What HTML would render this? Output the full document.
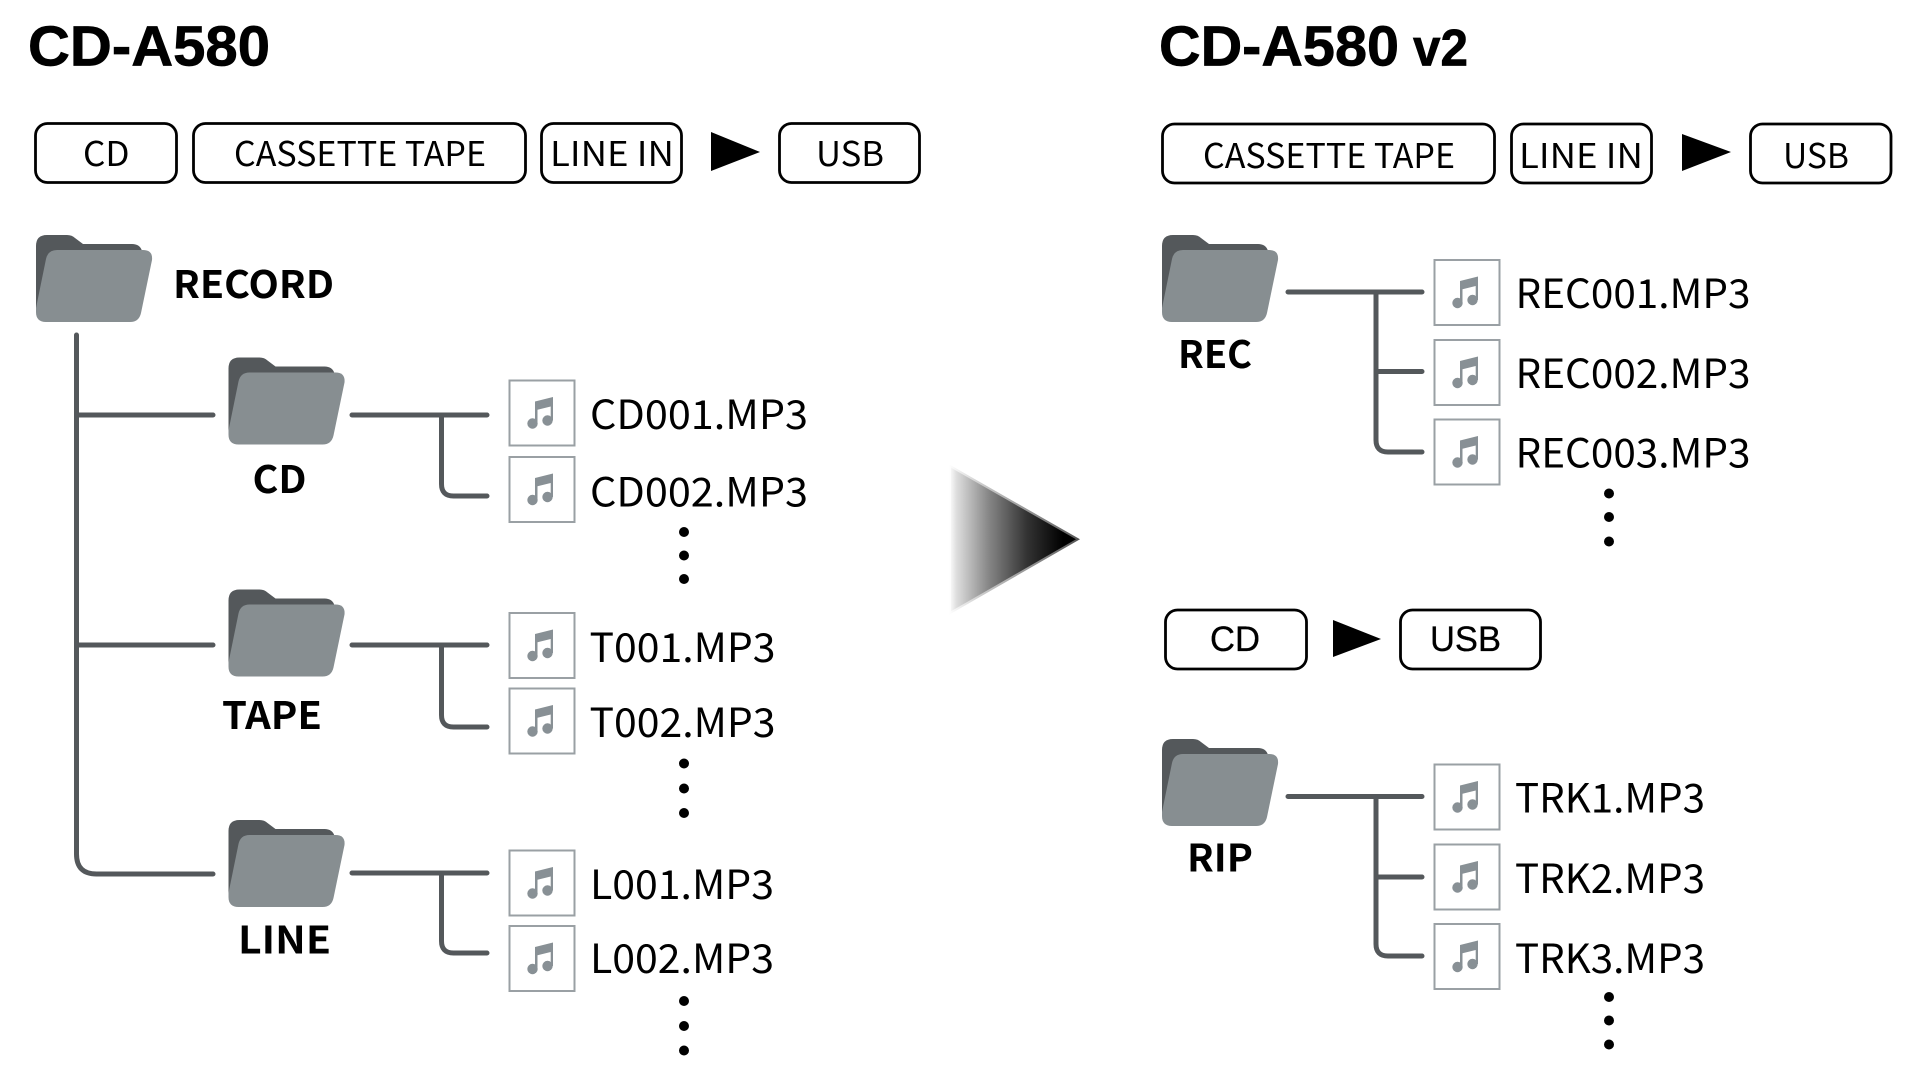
<!DOCTYPE html>
<html lang="en">
<head>
<meta charset="utf-8">
<title>CD-A580 folder structure</title>
<style>
html,body{margin:0;padding:0;background:#fff;width:1920px;height:1080px;overflow:hidden}
svg{display:block}
.t{font-family:"Liberation Sans",Arial,sans-serif;font-weight:700;fill:#000;stroke:#000;stroke-width:.7}
.n{font-family:"Noto Sans CJK JP","Liberation Sans",sans-serif;font-weight:400;fill:#000}
.b{font-family:"Noto Sans CJK JP","Liberation Sans",sans-serif;font-weight:700;fill:#000}
.h{font-family:"Liberation Sans",Arial,sans-serif;font-weight:400;fill:#000;stroke:#000;stroke-width:.3}
.btn{font-size:34px}
.file{font-size:40px}
.lab{font-size:38px}
.box{fill:#fff;stroke:#000;stroke-width:2.8}
.ln{fill:none;stroke:#54585b;stroke-width:5;stroke-linecap:round;stroke-linejoin:round}
</style>
</head>
<body>
<svg xmlns="http://www.w3.org/2000/svg" width="1920" height="1080" viewBox="0 0 1920 1080">
<defs>
<linearGradient id="g" gradientUnits="userSpaceOnUse" x1="949" y1="0" x2="1079" y2="0">
<stop offset="0" stop-color="#fff"/>
<stop offset=".06" stop-color="#ddd"/>
<stop offset=".3" stop-color="#888"/>
<stop offset=".6" stop-color="#333"/>
<stop offset=".88" stop-color="#000"/>
<stop offset="1" stop-color="#000"/>
</linearGradient>
<linearGradient id="gs" gradientUnits="userSpaceOnUse" x1="949" y1="0" x2="1079" y2="0">
<stop offset="0" stop-color="#fff"/>
<stop offset=".25" stop-color="#ccc"/>
<stop offset=".7" stop-color="#888"/>
<stop offset="1" stop-color="#555"/>
</linearGradient>
<g id="folder">
<path fill="#54585b" d="M0 11Q0 0 11 0H31Q36 0 39 3L47 9H96Q104 9 106 16L60 40L0 76Z"/>
<path fill="#878e91" d="M21 15H107Q117 15 116 25L105 78Q103 87 94 87H10Q0 87 0 77V73L10 24Q12 15 21 15Z"/>
</g>
<g id="file">
<rect x="1" y="1" width="65" height="65" fill="#fff" stroke="#9aa0a4" stroke-width="2"/>
<circle cx="24" cy="44" r="5.2" fill="#889095"/>
<circle cx="39" cy="41" r="5.2" fill="#889095"/>
<path fill="#889095" d="M26.5 22L44.5 17.5V41H42.2V27L29 30.2V44H26.5Z"/>
</g>
</defs>

<text class="t" x="28" y="65.5" font-size="57" textLength="242" lengthAdjust="spacingAndGlyphs">CD-A580</text>
<text class="t" x="1159" y="65.5" font-size="57" textLength="240" lengthAdjust="spacingAndGlyphs">CD-A580</text>
<text class="t" x="1413" y="65.5" font-size="52" textLength="55" lengthAdjust="spacingAndGlyphs">v2</text>

<!-- left buttons -->
<rect class="box" x="35.5" y="123.5" width="141" height="59" rx="12"/>
<rect class="box" x="193.5" y="123.5" width="332" height="59" rx="12"/>
<rect class="box" x="541.5" y="123.5" width="140" height="59" rx="12"/>
<rect class="box" x="779.5" y="123.5" width="140" height="59" rx="12"/>
<text class="n btn" x="83" y="166" textLength="46.6" lengthAdjust="spacingAndGlyphs">CD</text>
<text class="n btn" x="234" y="166" textLength="252" lengthAdjust="spacingAndGlyphs">CASSETTE TAPE</text>
<text class="n btn" x="550" y="166" textLength="124" lengthAdjust="spacingAndGlyphs">LINE IN</text>
<text class="n btn" x="816" y="166" textLength="68" lengthAdjust="spacingAndGlyphs">USB</text>
<polygon points="711,132 760,152 711,171" fill="#000"/>

<!-- right buttons -->
<rect class="box" x="1162.5" y="124" width="332" height="59" rx="12"/>
<rect class="box" x="1511.5" y="124" width="140" height="59" rx="12"/>
<rect class="box" x="1750.5" y="124" width="140.5" height="59" rx="12"/>
<text class="n btn" x="1203" y="168" textLength="252" lengthAdjust="spacingAndGlyphs">CASSETTE TAPE</text>
<text class="n btn" x="1519" y="168" textLength="124" lengthAdjust="spacingAndGlyphs">LINE IN</text>
<text class="n btn" x="1783" y="168" textLength="66" lengthAdjust="spacingAndGlyphs">USB</text>
<polygon points="1682,134 1731,152 1682,171" fill="#000"/>

<!-- lower right buttons -->
<rect class="box" x="1165.5" y="610" width="141" height="59" rx="12"/>
<rect class="box" x="1400.5" y="610" width="140" height="59" rx="12"/>
<text class="h" x="1210" y="651" font-size="35" textLength="50" lengthAdjust="spacingAndGlyphs">CD</text>
<text class="h" x="1430" y="651" font-size="35" textLength="71" lengthAdjust="spacingAndGlyphs">USB</text>
<polygon points="1333,620 1381,639 1333,657" fill="#000"/>

<!-- big arrow -->
<polygon points="950,466 1078,539.3 950,613" fill="url(#g)" stroke="url(#gs)" stroke-width="2"/>

<!-- left tree lines -->
<path class="ln" d="M76.5 335V854Q76.5 874 96.5 874H213"/>
<path class="ln" d="M76.5 415H213M76.5 645H213"/>
<path class="ln" d="M352 415H487M441.5 415V484Q441.5 496 453.5 496H487"/>
<path class="ln" d="M352 645H487M441.5 645V715Q441.5 727 453.5 727H487"/>
<path class="ln" d="M352 873H487M441.5 873V941Q441.5 953 453.5 953H487"/>

<!-- right tree lines -->
<path class="ln" d="M1288 292H1422M1376 292V440Q1376 452 1388 452H1422M1376 371.5H1422"/>
<path class="ln" d="M1288 796.5H1422M1376 796.5V944Q1376 956 1388 956H1422M1376 877H1422"/>

<!-- folders -->
<use href="#folder" x="36" y="235"/>
<use href="#folder" x="228.5" y="357.5"/>
<use href="#folder" x="228.5" y="589.5"/>
<use href="#folder" x="228.5" y="820"/>
<use href="#folder" x="1162" y="235"/>
<use href="#folder" x="1162" y="739"/>

<!-- folder labels -->
<text class="b lab" x="173" y="298" textLength="161" lengthAdjust="spacingAndGlyphs">RECORD</text>
<text class="b lab" x="252.5" y="493" textLength="54" lengthAdjust="spacingAndGlyphs">CD</text>
<text class="b lab" x="222" y="729" textLength="100" lengthAdjust="spacingAndGlyphs">TAPE</text>
<text class="b lab" x="238" y="953.5" textLength="93" lengthAdjust="spacingAndGlyphs">LINE</text>
<text class="b lab" x="1178" y="368" textLength="74" lengthAdjust="spacingAndGlyphs">REC</text>
<text class="b lab" x="1187" y="871.5" textLength="66" lengthAdjust="spacingAndGlyphs">RIP</text>

<!-- file icons -->
<use href="#file" x="508.5" y="379.5"/>
<use href="#file" x="508.5" y="456"/>
<use href="#file" x="508.5" y="612"/>
<use href="#file" x="508.5" y="687.5"/>
<use href="#file" x="508.5" y="849.5"/>
<use href="#file" x="508.5" y="925"/>
<use href="#file" x="1433.5" y="259"/>
<use href="#file" x="1433.5" y="339"/>
<use href="#file" x="1433.5" y="418.5"/>
<use href="#file" x="1433.5" y="763.5"/>
<use href="#file" x="1433.5" y="843.5"/>
<use href="#file" x="1433.5" y="923"/>

<!-- file names -->
<text class="n file" x="590" y="429" textLength="218" lengthAdjust="spacingAndGlyphs">CD001.MP3</text>
<text class="n file" x="590" y="506.5" textLength="218" lengthAdjust="spacingAndGlyphs">CD002.MP3</text>
<text class="n file" x="589.5" y="662" textLength="186" lengthAdjust="spacingAndGlyphs">T001.MP3</text>
<text class="n file" x="589.5" y="737" textLength="186" lengthAdjust="spacingAndGlyphs">T002.MP3</text>
<text class="n file" x="590" y="899" textLength="184" lengthAdjust="spacingAndGlyphs">L001.MP3</text>
<text class="n file" x="590" y="973" textLength="184" lengthAdjust="spacingAndGlyphs">L002.MP3</text>
<text class="n file" x="1515.5" y="308" textLength="235" lengthAdjust="spacingAndGlyphs">REC001.MP3</text>
<text class="n file" x="1515.5" y="388" textLength="235" lengthAdjust="spacingAndGlyphs">REC002.MP3</text>
<text class="n file" x="1515.5" y="467.5" textLength="235" lengthAdjust="spacingAndGlyphs">REC003.MP3</text>
<text class="n file" x="1515" y="812.5" textLength="190" lengthAdjust="spacingAndGlyphs">TRK1.MP3</text>
<text class="n file" x="1515" y="893" textLength="190" lengthAdjust="spacingAndGlyphs">TRK2.MP3</text>
<text class="n file" x="1515" y="973" textLength="190" lengthAdjust="spacingAndGlyphs">TRK3.MP3</text>

<!-- dots -->
<g fill="#000">
<circle cx="684" cy="532" r="5"/><circle cx="684" cy="555.5" r="5"/><circle cx="684" cy="579" r="5"/>
<circle cx="684" cy="763.5" r="5"/><circle cx="684" cy="788.5" r="5"/><circle cx="684" cy="813" r="5"/>
<circle cx="684" cy="1001" r="5"/><circle cx="684" cy="1026" r="5"/><circle cx="684" cy="1050.5" r="5"/>
<circle cx="1609" cy="493.5" r="5"/><circle cx="1609" cy="517" r="5"/><circle cx="1609" cy="541.5" r="5"/>
<circle cx="1609" cy="997" r="5"/><circle cx="1609" cy="1020.5" r="5"/><circle cx="1609" cy="1044.5" r="5"/>
</g>
</svg>
</body>
</html>
